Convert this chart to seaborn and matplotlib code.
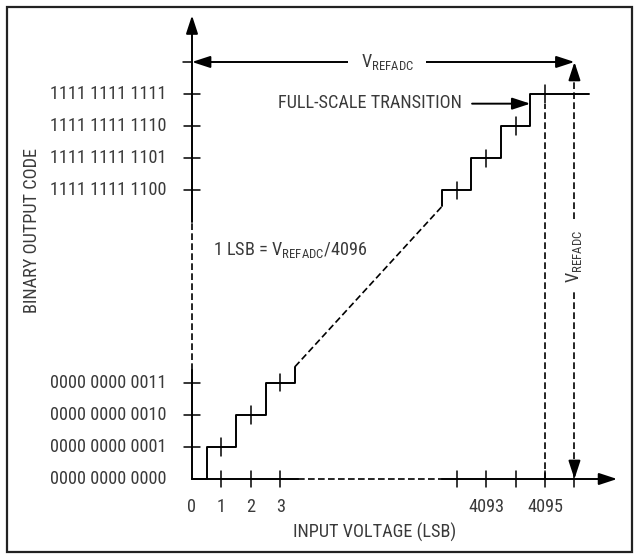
import numpy as np
import pandas as pd
import matplotlib
matplotlib.use("Agg")
import matplotlib.pyplot as plt
import matplotlib.patches as patches
from matplotlib import font_manager as fm
import seaborn as sns

sns.set_theme(style="white")

# pick a narrow sans face if one is installed, otherwise a regular one
fonts = fm.fontManager.ttflist
names = {f.name for f in fonts}
FONT, STRETCH = 'Liberation Sans', 'normal'
for n in ['Liberation Sans Narrow', 'Roboto Condensed', 'Open Sans Condensed',
          'Noto Sans Condensed', 'DejaVu Sans Condensed']:
    if n in names:
        FONT = n
        break
else:
    for f in fonts:
        if f.name in ('Noto Sans', 'Open Sans', 'DejaVu Sans', 'Roboto') and \
                f.stretch in ('condensed', 'semi-condensed', 'extra-condensed'):
            FONT, STRETCH = f.name, f.stretch
            break
plt.rcParams['font.family'] = [FONT, 'DejaVu Sans']
plt.rcParams['font.stretch'] = STRETCH
plt.rcParams['mathtext.fontset'] = 'custom'
for k in ('rm', 'it', 'bf', 'sf'):
    plt.rcParams['mathtext.' + k] = FONT + (':stretch=' + STRETCH if STRETCH != 'normal' else '')

# --- data (LSB / output codes) ---
codes_low = [0, 1, 2, 3]
codes_high = [4092, 4093, 4094, 4095]
code_labels_low = ['0000 0000 0000', '0000 0000 0001', '0000 0000 0010', '0000 0000 0011']
code_labels_high = ['1111 1111 1100', '1111 1111 1101', '1111 1111 1110', '1111 1111 1111']
x_ticks = [1, 2, 3, 4092, 4093, 4094, 4095, 4096]
x_tick_labels = ['0', '1', '2', '3', '4093', '4095']
x_tick_label_pos = [0, 1, 2, 3, 4093, 4095]
full_scale = 4096            # V_REFADC expressed in LSB
fs_transition = 4094.5       # full-scale transition
last_step_end = 4096.5

BREAK = 4083                 # compress the 4..4091 range


def sq(v):
    v = np.asarray(v, dtype=float)
    return np.where(v > 2048, v - BREAK, v)


INK = 'black'
TXT = '#3a3a3a'
LW = 1.4
DASH = (0, (4, 2))

fig = plt.figure(figsize=(6.38, 5.55), dpi=100)
ax = fig.add_axes([0, 0, 1, 1])
ax.set_xlim(-192 / 29.42, (638 - 192) / 29.42)
ax.set_ylim((479 - 555) / 32.08, 479 / 32.08)
ax.axis('off')

# size the text so a code label is about as wide as in the reference
renderer = fig.canvas.get_renderer()
probe = ax.text(0, 0, code_labels_low[-1], fontsize=10)
w = probe.get_window_extent(renderer).width
probe.remove()
FS = min(13.5, 1.1 * 10 * 104 / w)

# border
fig.patches.append(patches.Rectangle((7 / 638, 3 / 555), 625 / 638, 545 / 555,
                                     transform=fig.transFigure, fill=False,
                                     lw=1.6, ec='#222222'))

# --- staircases ---
xs, ys = [codes_low[0]], [codes_low[0]]
for c in codes_low[1:]:
    xs += [c - 0.5, c - 0.5]
    ys += [c - 1, c]
xs += [codes_low[-1] + 0.5, codes_low[-1] + 0.5]
ys += [codes_low[-1], codes_low[-1] + 0.5]
low = pd.DataFrame({'x': sq(xs), 'y': sq(ys)})

xs2, ys2 = [codes_high[0] - 0.5], [codes_high[0] - 0.5]
xs2 += [codes_high[0] - 0.5]
ys2 += [codes_high[0]]
for c in codes_high[1:]:
    xs2 += [c - 0.5, c - 0.5]
    ys2 += [c - 1, c]
xs2 += [last_step_end]
ys2 += [codes_high[-1]]
high = pd.DataFrame({'x': sq(xs2), 'y': sq(ys2)})

diag = pd.DataFrame({'x': sq([codes_low[-1] + 0.5, codes_high[0] - 0.5]),
                     'y': sq([codes_low[-1] + 0.5, codes_high[0] - 0.5])})

sns.lineplot(data=low, x='x', y='y', sort=False, estimator=None, color=INK, lw=LW, ax=ax)
sns.lineplot(data=high, x='x', y='y', sort=False, estimator=None, color=INK, lw=LW, ax=ax)
sns.lineplot(data=diag, x='x', y='y', sort=False, estimator=None, color=INK, lw=1.2,
             linestyle=DASH, ax=ax)

# crosses on each code centre
for c in codes_low[1:] + codes_high:
    ax.plot([sq(c), sq(c)], [sq(c) - 0.27, sq(c) + 0.27], color=INK, lw=1.1)

# --- axes ---
AX_END = 14.45
ax.plot([0, 3.6], [0, 0], color=INK, lw=LW)
ax.plot([3.6, sq(4091.5)], [0, 0], color=INK, lw=1.2, linestyle=DASH)
ax.plot([sq(4091.5), AX_END - 0.3], [0, 0], color=INK, lw=LW)
ax.plot([0, 0], [0, 3.4], color=INK, lw=LW)
ax.plot([0, 0], [3.4, sq(4091)], color=INK, lw=1.2, linestyle=DASH)
ax.plot([0, 0], [sq(4091), AX_END - 0.3], color=INK, lw=LW)

head = dict(arrowstyle='-|>,head_length=0.55,head_width=0.18', color=INK, lw=LW,
            shrinkA=0, shrinkB=0, mutation_scale=20)
ax.annotate('', xy=(AX_END, 0), xytext=(AX_END - 0.4, 0), arrowprops=head)
ax.annotate('', xy=(0, AX_END), xytext=(0, AX_END - 0.4), arrowprops=head)

# tick marks
for t in x_ticks:
    ax.plot([sq(t), sq(t)], [-0.26, 0.26], color=INK, lw=1.1)
for c in codes_low[1:] + codes_high:
    ax.plot([-0.28, 0.28], [sq(c), sq(c)], color=INK, lw=1.1)
ax.plot([-0.3, 0], [sq(full_scale), sq(full_scale)], color=INK, lw=1.1)

# tick labels
for c, lab in zip(codes_low + codes_high, code_labels_low + code_labels_high):
    ax.text(-0.88, sq(c), lab, ha='right', va='center', fontsize=FS, color=TXT)
for p, lab in zip(x_tick_label_pos, x_tick_labels):
    ax.text(sq(p), -0.87, lab, ha='center', va='center', fontsize=FS, color=TXT)

ax.text(6.2, -1.68, 'INPUT VOLTAGE (LSB)', ha='center', va='center', fontsize=FS, color=TXT)
ax.text(-5.44, 7.76, 'BINARY OUTPUT CODE', ha='center', va='center', rotation=90,
        fontsize=FS, color=TXT)

# --- V_REFADC horizontal arrow ---
ax.plot([0.4, sq(full_scale) - 0.4], [sq(full_scale)] * 2, color=INK, lw=LW)
ax.annotate('', xy=(0, sq(full_scale)), xytext=(0.5, sq(full_scale)), arrowprops=head)
ax.annotate('', xy=(sq(full_scale), sq(full_scale)), xytext=(sq(full_scale) - 0.5, sq(full_scale)),
            arrowprops=head)
ax.text(6.63, sq(full_scale), r'V$_{\mathrm{REFADC}}$', ha='center', va='center',
        fontsize=FS, color=TXT,
        bbox=dict(boxstyle='square,pad=0.7', fc='white', ec='none'))

# --- V_REFADC vertical dashed arrow ---
ax.plot([sq(full_scale)] * 2, [0.3, sq(full_scale) - 0.3], color=INK, lw=1.2, linestyle=DASH)
ax.annotate('', xy=(sq(full_scale), 0), xytext=(sq(full_scale), 0.45), arrowprops=head)
ax.annotate('', xy=(sq(full_scale), sq(full_scale)), xytext=(sq(full_scale), sq(full_scale) - 0.45),
            arrowprops=head)
ax.text(sq(full_scale), 6.95, r'V$_{\mathrm{REFADC}}$', ha='center', va='center', rotation=90,
        fontsize=FS, color=TXT,
        bbox=dict(boxstyle='square,pad=0.5', fc='white', ec='none'))

# dashed drop from last code
ax.plot([sq(codes_high[-1])] * 2, [0, sq(codes_high[-1]) - 0.3], color=INK, lw=1.2, linestyle=DASH)

# --- full-scale transition arrow ---
ax.annotate('', xy=(sq(fs_transition), 11.7), xytext=(9.52, 11.7),
            arrowprops=dict(head, lw=LW))
ax.text(9.18, 11.72, 'FULL-SCALE TRANSITION', ha='right', va='center', fontsize=FS, color=TXT)

ax.text(0.71, 7.14, r'1 LSB = V$_{\mathrm{REFADC}}$/4096', ha='left', va='center',
        fontsize=FS, color=TXT)

fig.savefig('out.png', dpi=100)
